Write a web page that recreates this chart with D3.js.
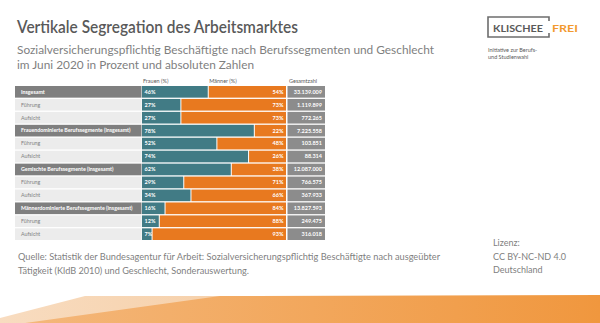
<!DOCTYPE html>
<html>
<head>
<meta charset="utf-8">
<script src="https://cdn.jsdelivr.net/npm/d3@7"></script>
<style>
  html, body { margin: 0; padding: 0; background: #fff; }
  svg { display: block; }
</style>
</head>
<body>
<svg id="chart" width="600" height="323"></svg>
<script>
// Row labels, segment flags and values
const rowLabels = [
  "Insgesamt", "Führung", "Aufsicht",
  "Frauendominierte Berufssegmente (insgesamt)", "Führung", "Aufsicht",
  "Gemischte Berufssegmente (insgesamt)", "Führung", "Aufsicht",
  "Männerdominierte Berufssegmente (insgesamt)", "Führung", "Aufsicht"
];
const isSegment = [true, false, false, true, false, false, true, false, false, true, false, false];
const frauen = [46, 27, 27, 78, 52, 74, 62, 29, 34, 16, 12, 7];
const maenner = [54, 73, 73, 22, 48, 26, 38, 71, 66, 84, 88, 93];
const gesamt = [
  "33.139.009", "1.119.899", "772.265",
  "7.225.558", "103.851", "88.314",
  "12.087.000", "766.575", "367.933",
  "13.827.593", "249.475", "316.018"
];
const columnHeads = ["Frauen (%)", "Männer (%)", "Gesamtzahl"];

const font = "Lato, 'Open Sans', sans-serif";
const grayText = "#7f7f7f";
const teal = "#417b85";
const orange = "#e8791f";

const svg = d3.select("#chart").style("font-family", font);

// Bottom decorative band
const defs = svg.append("defs");
const grad = defs.append("linearGradient").attr("id", "band").attr("x1", "0").attr("x2", "1");
grad.append("stop").attr("offset", "0").attr("stop-color", "#f4b77a");
grad.append("stop").attr("offset", "1").attr("stop-color", "#f0973e");
const gradLight = defs.append("linearGradient").attr("id", "bandLight").attr("x1", "0").attr("x2", "1");
gradLight.append("stop").attr("offset", "0").attr("stop-color", "#f8dcc0");
gradLight.append("stop").attr("offset", "1").attr("stop-color", "#f3bd86");
svg.append("path").attr("d", "M0,318 L85,296 L600,296 L600,323 L0,323 Z").attr("fill", "url(#bandLight)");
svg.append("path").attr("d", "M220,296 L600,295 L600,323 L25,323 Z").attr("fill", "url(#band)");

// Titles
svg.append("text").attr("x", 17).attr("y", 33)
  .attr("font-size", 17).attr("font-weight", 600).attr("fill", "#595959")
  .attr("textLength", 281).attr("lengthAdjust", "spacingAndGlyphs")
  .text("Vertikale Segregation des Arbeitsmarktes");
svg.append("text").attr("x", 17).attr("y", 54)
  .attr("font-size", 12).attr("fill", grayText)
  .attr("textLength", 417).attr("lengthAdjust", "spacingAndGlyphs")
  .text("Sozialversicherungspflichtig Beschäftigte nach Berufssegmenten und Geschlecht");
svg.append("text").attr("x", 17).attr("y", 69)
  .attr("font-size", 12).attr("fill", grayText)
  .attr("textLength", 237).attr("lengthAdjust", "spacingAndGlyphs")
  .text("im Juni 2020 in Prozent und absoluten Zahlen");

// Logo
const logo = svg.append("g");
logo.append("path")
  .attr("d", "M549,21 L549,17 L488,17 L488,37 L549,37 L549,33")
  .attr("fill", "none").attr("stroke", "#6d6d6d").attr("stroke-width", 1.6);
logo.append("text").attr("x", 493).attr("y", 31.5)
  .attr("font-size", 9.5).attr("font-weight", 700).attr("fill", "#595959")
  .attr("textLength", 50).attr("lengthAdjust", "spacingAndGlyphs").text("KLISCHEE");
logo.append("text").attr("x", 552).attr("y", 31.5)
  .attr("font-size", 9.5).attr("font-weight", 700).attr("fill", "#f29a2e")
  .attr("textLength", 26).attr("lengthAdjust", "spacingAndGlyphs").text("FREI");
logo.append("text").attr("x", 488).attr("y", 52)
  .attr("font-size", 5.5).attr("fill", "#595959").text("Initiative zur Berufs-");
logo.append("text").attr("x", 488).attr("y", 59)
  .attr("font-size", 5.5).attr("fill", "#595959").text("und Studienwahl");

// Scales
const y = d3.scaleBand().domain(d3.range(rowLabels.length)).range([86, 240]).paddingInner(0.1);
const x = d3.scaleLinear().domain([0, 100]).range([142, 286]);
const labelLeft = 15, labelRight = 141.5;
const totalLeft = 287.5, totalRight = 325;

// Column headers
const headX = [x(0) + 1, x(46) + 1, totalLeft + 1.5];
svg.selectAll("text.head").data(columnHeads).join("text")
  .attr("class", "head")
  .attr("x", (d, i) => headX[i]).attr("y", 82.5)
  .attr("font-size", 5.5).attr("fill", "#595959")
  .text(d => d);

const rows = svg.selectAll("g.row").data(rowLabels).join("g")
  .attr("class", "row")
  .attr("transform", (d, i) => `translate(0,${y(i)})`);
const h = y.bandwidth();

// Label cells
rows.append("rect")
  .attr("x", labelLeft).attr("width", labelRight - labelLeft).attr("height", h)
  .attr("fill", (d, i) => isSegment[i] ? "#7f7f7f" : "#ececec");
rows.append("text")
  .attr("x", labelLeft + 6).attr("y", h / 2).attr("dy", "0.35em")
  .attr("font-size", 5.3)
  .attr("font-weight", (d, i) => isSegment[i] ? 700 : 400)
  .attr("fill", (d, i) => isSegment[i] ? "#ffffff" : grayText)
  .text(d => d);

// Women share
rows.append("rect")
  .attr("x", x(0)).attr("height", h)
  .attr("width", (d, i) => x(frauen[i]) - x(0) - 0.5)
  .attr("fill", teal);
rows.append("text")
  .attr("x", x(0) + 2.5).attr("y", h / 2).attr("dy", "0.35em")
  .attr("font-size", 5.5).attr("font-weight", 700).attr("fill", "#ffffff")
  .text((d, i) => frauen[i] + "%");

// Men share
rows.append("rect")
  .attr("x", (d, i) => x(frauen[i]) + 0.5).attr("height", h)
  .attr("width", (d, i) => x(frauen[i] + maenner[i]) - x(frauen[i]) - 0.5)
  .attr("fill", orange);
rows.append("text")
  .attr("x", x(100) - 2.5).attr("y", h / 2).attr("dy", "0.35em")
  .attr("text-anchor", "end")
  .attr("font-size", 5.5).attr("font-weight", 700).attr("fill", "#ffffff")
  .text((d, i) => maenner[i] + "%");

// Totals
rows.append("rect")
  .attr("x", totalLeft).attr("width", totalRight - totalLeft).attr("height", h)
  .attr("fill", "#8c8c8c");
rows.append("text")
  .attr("x", totalRight - 3).attr("y", h / 2).attr("dy", "0.35em")
  .attr("text-anchor", "end")
  .attr("font-size", 5.5).attr("font-weight", 700).attr("fill", "#ffffff")
  .text((d, i) => gesamt[i]);

// Source note
svg.append("text").attr("x", 18).attr("y", 260)
  .attr("font-size", 8.5).attr("fill", grayText)
  .attr("textLength", 422).attr("lengthAdjust", "spacingAndGlyphs")
  .text("Quelle: Statistik der Bundesagentur für Arbeit: Sozialversicherungspflichtig Beschäftigte nach ausgeübter");
svg.append("text").attr("x", 18).attr("y", 273.5)
  .attr("font-size", 8.5).attr("fill", grayText)
  .attr("textLength", 231).attr("lengthAdjust", "spacingAndGlyphs")
  .text("Tätigkeit (KldB 2010) und Geschlecht, Sonderauswertung.");

// Licence
const lic = ["Lizenz:", "CC BY-NC-ND 4.0", "Deutschland"];
svg.selectAll("text.lic").data(lic).join("text")
  .attr("class", "lic")
  .attr("x", 493).attr("y", (d, i) => 246 + i * 13.5)
  .attr("font-size", 9).attr("fill", grayText)
  .text(d => d);
</script>
</body>
</html>
